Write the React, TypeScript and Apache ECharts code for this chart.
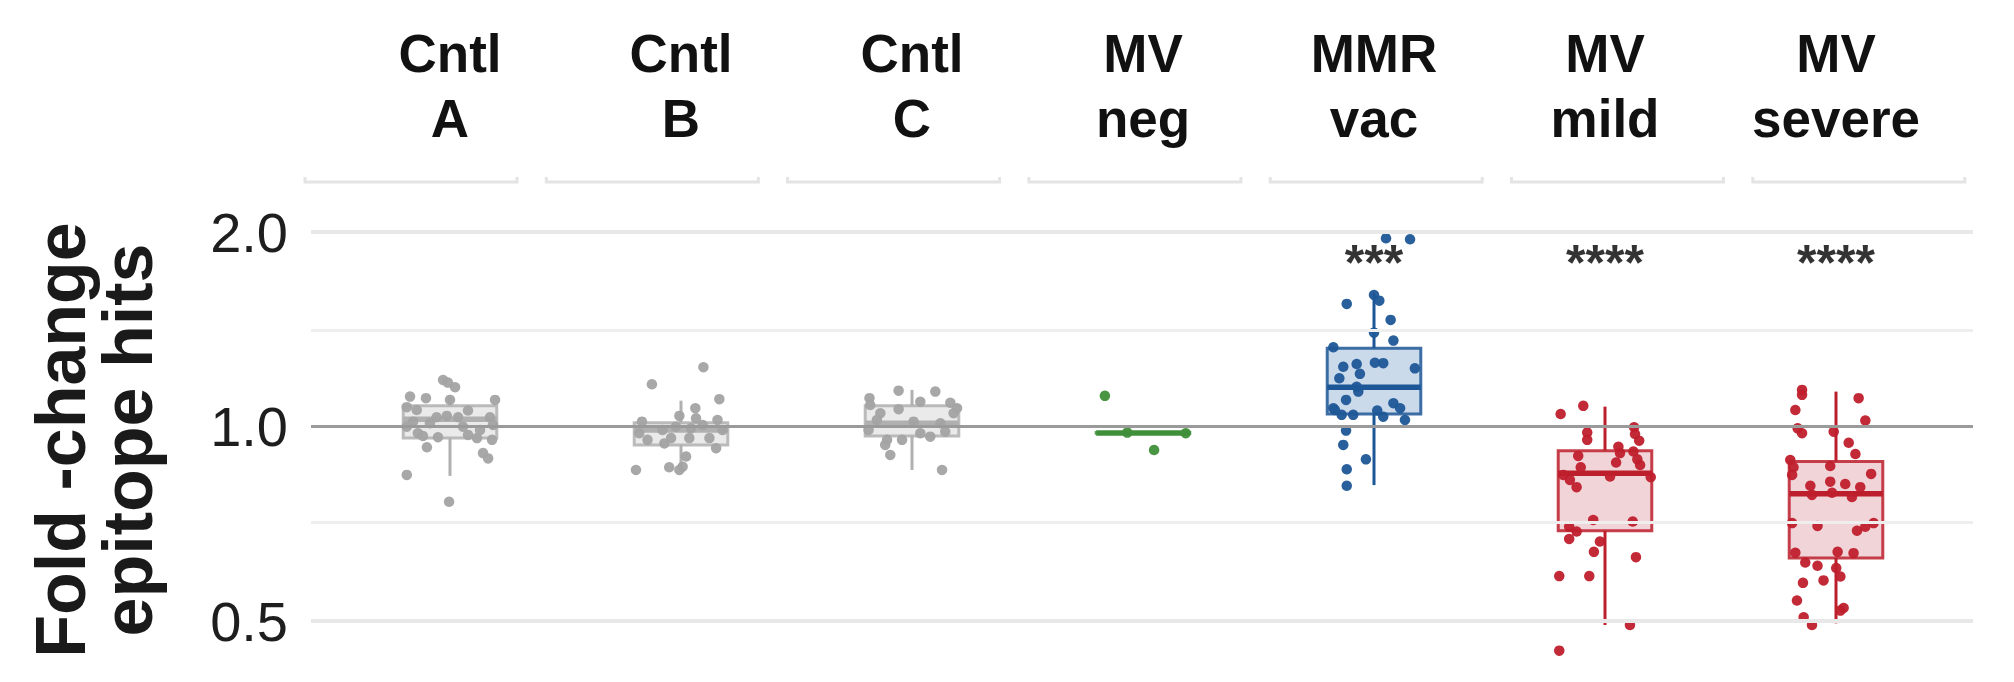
import React, { useEffect, useRef } from "react";
import * as echarts from "echarts";

// ---------- DATA ----------
const categories = ["Cntl\nA", "Cntl\nB", "Cntl\nC", "MV\nneg", "MMR\nvac", "MV\nmild", "MV\nsevere"];

// box stats: [lower whisker, Q1, median, Q3, upper whisker]
const boxCntlA = [0.839, 0.96, 1.027, 1.077, 1.12];
const boxCntlB = [0.857, 0.937, 0.988, 1.014, 1.097];
const boxCntlC = [0.857, 0.967, 1.012, 1.077, 1.14];
const boxMvNeg = [0.977, 0.977, 0.978, 0.979, 0.979];
const boxMmrVac = [0.812, 1.046, 1.151, 1.322, 1.609];
const boxMvMild = [0.493, 0.69, 0.847, 0.918, 1.074];
const boxMvSevere = [0.496, 0.626, 0.787, 0.883, 1.133];

// individual points (fold-change) and horizontal jitter (fraction of band)
const ptsCntlA = [1.181, 1.17, 1.151, 1.113, 1.107, 1.1, 1.1, 1.072, 1.059, 1.034, 1.039, 1.034, 1.034, 1.018, 1.012, 1.0, 1.006, 0.977, 0.967, 0.963, 0.971, 0.96, 0.954, 0.929, 0.91, 0.893, 0.842, 0.765, 1.061, 1.0, 0.988];
const jitCntlA = [-0.03, -0.009, 0.022, -0.173, -0.104, 0, 0.195, -0.187, 0.078, -0.058, -0.014, 0.035, 0.173, -0.16, -0.087, -0.187, 0.186, -0.139, -0.117, -0.052, 0.078, 0.117, 0.182, -0.1, 0.143, 0.165, -0.187, -0.004, -0.144, 0.056, 0.13];

const ptsCntlB = [1.236, 1.163, 1.103, 1.068, 1.039, 1.018, 1.03, 1.024, 0.994, 0.977, 0.954, 0.942, 0.96, 0.926, 0.899, 0.867, 0.865, 0.857, 0.857, 0.96, 0.96, 0.988, 0.988, 1.0, 1.006];
const jitCntlB = [0.097, -0.126, 0.166, 0.062, -0.007, -0.169, 0.065, 0.158, 0.043, -0.181, -0.145, -0.072, 0.036, 0.152, 0.022, 0.007, -0.051, -0.007, -0.195, -0.043, 0.123, -0.08, 0.18, -0.022, 0.094];

const ptsCntlC = [1.137, 1.133, 1.107, 1.093, 1.089, 1.064, 1.049, 1.049, 0.988, 0.954, 0.954, 0.977, 0.965, 0.982, 0.904, 0.857, 0.937, 1.024, 1.018, 1.012, 1.08, 1.068];
const jitCntlC = [-0.058, 0.101, -0.184, 0.036, 0.166, -0.058, -0.137, 0.18, -0.188, -0.108, -0.043, 0.036, 0.079, 0.144, -0.094, 0.13, -0.116, -0.152, 0.007, 0.123, -0.181, 0.195];

const ptsMvNeg = [1.116, 0.979, 0.977, 0.92];
const jitMvNeg = [-0.165, -0.068, 0.185, 0.048];

const ptsMmrVac = [1.957, 1.95, 1.599, 1.567, 1.549, 1.463, 1.398, 1.359, 1.327, 1.256, 1.254, 1.25, 1.238, 1.231, 1.207, 1.188, 1.133, 1.1, 1.068, 1.043, 1.043, 1.059, 1.036, 1.087, 1.068, 1.024, 0.986, 0.937, 0.89, 0.859, 0.81, 1.061, 1.153];
const jitMmrVac = [0.052, 0.156, 0, 0.023, -0.118, 0.072, 0, 0.084, -0.176, 0.004, 0.04, -0.075, -0.133, 0.177, -0.061, -0.15, -0.068, -0.121, -0.176, -0.14, -0.09, 0.014, 0.04, 0.084, 0.113, 0.134, -0.121, -0.133, -0.035, -0.118, -0.118, -0.169, -0.075];

const ptsMvMild = [1.046, 1.077, 0.979, 0.954, 0.998, 0.974, 0.951, 0.931, 0.915, 0.901, 0.89, 0.88, 0.865, 0.842, 0.837, 0.835, 0.827, 0.806, 0.717, 0.713, 0.7, 0.688, 0.67, 0.664, 0.64, 0.628, 0.587, 0.587, 0.493, 0.45, 0.91, 0.872];
const jitMvMild = [-0.192, -0.094, -0.077, -0.077, 0.126, 0.13, 0.148, 0.058, 0.123, -0.116, 0.14, 0.048, -0.105, -0.181, 0.022, 0.198, -0.152, -0.123, -0.051, 0.12, -0.155, -0.123, -0.155, -0.022, -0.048, 0.134, -0.198, -0.068, 0.108, -0.198, 0.065, 0.152];

const ptsMvSevere = [1.14, 1.12, 1.107, 1.061, 1.022, 0.994, 0.977, 0.982, 0.944, 0.907, 0.888, 0.865, 0.869, 0.842, 0.845, 0.815, 0.81, 0.822, 0.806, 0.784, 0.79, 0.778, 0.709, 0.702, 0.69, 0.7, 0.709, 0.638, 0.64, 0.637, 0.616, 0.609, 0.604, 0.586, 0.578, 0.573, 0.538, 0.524, 0.519, 0.507, 0.493];
const jitMvSevere = [-0.147, -0.147, 0.098, -0.176, 0.127, -0.166, -0.147, -0.01, 0.055, 0.084, -0.198, -0.184, -0.025, -0.19, 0.152, 0.04, -0.111, -0.025, 0.105, -0.104, -0.017, 0.069, -0.19, -0.08, 0.091, 0.127, 0.163, -0.176, 0.007, 0.076, -0.133, -0.08, 0.001, 0.019, -0.054, -0.143, -0.169, 0.033, 0.019, -0.14, -0.104];

const sigLabels = ["", "", "", "", "***", "****", "****"];
const SIG_Y = 1.79;

const yTickValues = [2, 1, 0.5];
const yTickLabels = ["2.0", "1.0", "0.5"];
const minorGridValues = [1.41421, 0.70711];
const refLineValue = 1;

const Y_MIN = 0.4024;
const Y_MAX = 2.392;

// ---------- STYLE ----------
const GRAY = { point: "#a3a3a3", stroke: "#b0b0b0", fill: "#e6e6e6" };
const GREEN = { point: "#3f8f3a", stroke: "#3f8f3a", fill: "#d3e6d0" };
const BLUE = { point: "#1e5797", stroke: "#1e5797", fill: "#c2d3e7" };
const RED = { point: "#bf1f2c", stroke: "#bc1f2b", fill: "#efcdd1" };

const groups = [
  { box: boxCntlA, pts: ptsCntlA, jit: jitCntlA, col: GRAY },
  { box: boxCntlB, pts: ptsCntlB, jit: jitCntlB, col: GRAY },
  { box: boxCntlC, pts: ptsCntlC, jit: jitCntlC, col: GRAY },
  { box: boxMvNeg, pts: ptsMvNeg, jit: jitMvNeg, col: GREEN },
  { box: boxMmrVac, pts: ptsMmrVac, jit: jitMmrVac, col: BLUE },
  { box: boxMvMild, pts: ptsMvMild, jit: jitMvMild, col: RED },
  { box: boxMvSevere, pts: ptsMvSevere, jit: jitMvSevere, col: RED },
];

const FONT = "'Liberation Sans', Arial, Helvetica, sans-serif";
const BOX_HALF = 0.2025;

export default function App() {
  const ref = useRef<HTMLDivElement>(null);

  useEffect(() => {
    if (!ref.current) return;
    const chart = echarts.init(ref.current, null, { renderer: "svg" });

    const boxData = groups.map((g, i) => [i, ...g.box]);

    const boxSeries: any = {
      type: "custom",
      xAxisIndex: 1,
      yAxisIndex: 0,
      z: 3,
      data: boxData,
      renderItem: (params: any, api: any) => {
        const i = api.value(0);
        const col = groups[i].col;
        const lo = api.coord([i, api.value(1)]);
        const q1 = api.coord([i, api.value(2)]);
        const md = api.coord([i, api.value(3)]);
        const q3 = api.coord([i, api.value(4)]);
        const hi = api.coord([i, api.value(5)]);
        const xl = api.coord([i - BOX_HALF, api.value(3)])[0];
        const xr = api.coord([i + BOX_HALF, api.value(3)])[0];
        return {
          type: "group",
          children: [
            { type: "line", shape: { x1: md[0], y1: hi[1], x2: md[0], y2: q3[1] }, style: { stroke: col.stroke, lineWidth: 3 } },
            { type: "line", shape: { x1: md[0], y1: q1[1], x2: md[0], y2: lo[1] }, style: { stroke: col.stroke, lineWidth: 3 } },
            { type: "rect", shape: { x: xl, y: q3[1], width: xr - xl, height: Math.max(q1[1] - q3[1], 0.5) }, style: { fill: col.fill, opacity: 0.85, stroke: col.stroke, lineWidth: 3 } },
            { type: "line", shape: { x1: xl, y1: md[1], x2: xr, y2: md[1] }, style: { stroke: col.stroke, lineWidth: 5.5 } },
          ],
        };
      },
    };

    const pointSeries = groups.map((g, i) => ({
      type: "scatter",
      xAxisIndex: 1,
      yAxisIndex: 0,
      z: 4,
      symbolSize: 10.5,
      itemStyle: { color: g.col.point, opacity: 0.95 },
      data: g.pts.map((v, k) => [i + g.jit[k], v]),
    }));

    const sigSeries = {
      type: "scatter",
      xAxisIndex: 1,
      yAxisIndex: 0,
      z: 5,
      symbolSize: 1,
      itemStyle: { color: "transparent" },
      label: { show: true, position: "inside", fontSize: 50, fontWeight: "bold", color: "#000000", fontFamily: FONT },
      data: sigLabels
        .map((s, i) => (s ? { value: [i, SIG_Y], label: { formatter: s } } : null))
        .filter((d) => d !== null),
    };

    const gridLineSeries = {
      type: "line",
      xAxisIndex: 2,
      yAxisIndex: 1,
      z: 1,
      symbol: "none",
      lineStyle: { opacity: 0 },
      data: [[0, 1], [1, 1]],
      silent: true,
      markLine: {
        silent: true,
        symbol: ["none", "none"],
        animation: false,
        data: [
          ...minorGridValues.map((v) => ({ yAxis: v, lineStyle: { color: "#eeeeee", width: 3, type: "solid" }, label: { show: false } })),
          ...yTickValues.map((v, k) => ({
            yAxis: v,
            lineStyle: v === refLineValue ? { color: "#9a9a9a", width: 3, type: "solid" } : { color: "#e8e8e8", width: 4, type: "solid" },
            label: {
              show: true,
              position: "start",
              distance: 23,
              formatter: yTickLabels[k],
              fontSize: 56,
              color: "#1e1e1e",
              fontFamily: FONT,
              padding: [0, 0, 10, 0],
            },
          })),
        ],
      },
    };

    const stripLines: any[] = [];
    for (let i = 0; i < categories.length; i++) {
      const x0 = 305 + 241.3 * i;
      const x1 = x0 + 212;
      stripLines.push({
        type: "polyline",
        silent: true,
        shape: { points: [[x0, 177], [x0, 182], [x1, 182], [x1, 177]] },
        style: { stroke: "#e4e4e4", lineWidth: 3, fill: "none" },
      });
    }

    chart.setOption({
      animation: false,
      backgroundColor: "#ffffff",
      textStyle: { fontFamily: FONT },
      grid: [
        { left: 334.5, right: 62.5, top: 182, bottom: 0 },
        { left: 311, right: 41, top: 182, bottom: 0 },
      ],
      xAxis: [
        {
          type: "category",
          gridIndex: 0,
          position: "top",
          data: categories,
          boundaryGap: true,
          axisLine: { show: false },
          axisTick: { show: false },
          splitLine: { show: false },
          axisLabel: {
            interval: 0,
            margin: 31,
            fontSize: 53,
            fontWeight: "bold",
            lineHeight: 65,
            color: "#111111",
            fontFamily: FONT,
          },
        },
        { type: "value", gridIndex: 0, min: -0.5, max: 6.5, show: false },
        { type: "value", gridIndex: 1, min: 0, max: 1, show: false },
      ],
      yAxis: [
        { type: "log", logBase: 2, gridIndex: 0, min: Y_MIN, max: Y_MAX, show: false },
        { type: "log", logBase: 2, gridIndex: 1, min: Y_MIN, max: Y_MAX, show: false },
      ],
      graphic: [
        ...stripLines,
        {
          type: "text",
          x: 94,
          y: 440,
          rotation: Math.PI / 2,
          silent: true,
          style: {
            text: "Fold -change\nepitope hits",
            fontSize: 70,
            fontWeight: "bold",
            fontFamily: FONT,
            fill: "#1a1a1a",
            align: "center",
            verticalAlign: "middle",
            textAlign: "center",
            textVerticalAlign: "middle",
            lineHeight: 67,
          },
        },
      ],
      series: [gridLineSeries, boxSeries, ...pointSeries, sigSeries],
    });

    return () => chart.dispose();
  }, []);

  return (
    <div
      ref={ref}
      style={{ position: "absolute", left: 0, top: 0, width: 2014, height: 682 }}
    />
  );
}
